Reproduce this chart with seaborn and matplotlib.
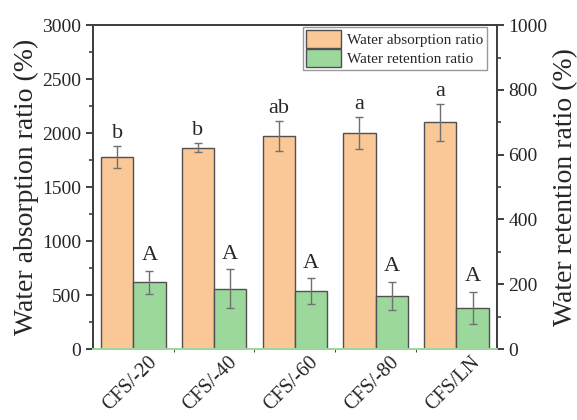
#%% packages
import numpy as np
import pandas as pd
import seaborn as sns
import matplotlib
matplotlib.use("Agg")
import matplotlib.pyplot as plt
import matplotlib.transforms as mtransforms
from matplotlib.patches import Patch
from matplotlib.ticker import MultipleLocator, FixedLocator

#%% data
samples = ["CFS/-20", "CFS/-40", "CFS/-60", "CFS/-80", "CFS/LN"]
absorption = [1780, 1865, 1972, 2003, 2099]
absorption_err = [105, 42, 140, 148, 172]
absorption_sig = ["b", "b", "ab", "a", "a"]
retention = [206, 186, 179, 165, 126]
retention_err = [35, 60, 40, 43, 50]
retention_sig = ["A", "A", "A", "A", "A"]

lab_abs = "Water absorption ratio"
lab_ret = "Water retention ratio"
orange = "#F9C896"
green = "#9CD79C"
edge = "#505050"

df = pd.DataFrame({
    "sample": samples * 2,
    "type": [lab_abs] * 5 + [lab_ret] * 5,
    "value": absorption + retention,
})

#%% style
sns.set_style("ticks")
plt.rcParams["font.family"] = ["Liberation Serif", "DejaVu Serif"]
plt.rcParams["axes.linewidth"] = 1.4
plt.rcParams["axes.edgecolor"] = "#404040"

fig = plt.figure(figsize=(5.77, 4.2), dpi=100)
ax = fig.add_axes([0.161, 0.169, 0.700, 0.771])
ax2 = ax.twinx()

pal = {lab_abs: orange, lab_ret: green}
hue_order = [lab_abs, lab_ret]

sns.barplot(data=df[df["type"] == lab_abs], x="sample", y="value", hue="type",
            hue_order=hue_order, palette=pal, errorbar=None, width=0.8, dodge=True,
            saturation=1, edgecolor=edge, linewidth=1.0, legend=False, ax=ax)
sns.barplot(data=df[df["type"] == lab_ret], x="sample", y="value", hue="type",
            hue_order=hue_order, palette=pal, errorbar=None, width=0.8, dodge=True,
            saturation=1, edgecolor=edge, linewidth=1.0, legend=False, ax=ax2)

#%% error bars and letters
def add_err(a, vals, errs, sig, offset):
    xs = sorted(p.get_x() + p.get_width() / 2 for p in a.patches if p.get_height() > 0)
    a.errorbar(xs, vals, yerr=errs, fmt="none", ecolor="#707070", elinewidth=1.0,
               capsize=3, capthick=1.0)
    for x, v, e, s in zip(xs, vals, errs, sig):
        a.annotate(s, (x, v + e), xytext=(0, offset), textcoords="offset points",
                   ha="center", va="bottom", fontsize=16)

add_err(ax, absorption, absorption_err, absorption_sig, 2)
add_err(ax2, retention, retention_err, retention_sig, 4)

#%% axes
ax.set_xlim(-0.5, 4.5)
ax2.set_xlim(-0.5, 4.5)
ax.set_ylim(0, 3000)
ax2.set_ylim(0, 1000)
ax.yaxis.set_major_locator(MultipleLocator(500))
ax.yaxis.set_minor_locator(MultipleLocator(250))
ax2.yaxis.set_major_locator(MultipleLocator(200))
ax2.yaxis.set_minor_locator(MultipleLocator(100))
ax.set_xlabel("")
ax.set_ylabel("Water absorption ratio (%)", fontsize=20, labelpad=2)
ax2.set_ylabel("Water retention ratio (%)", fontsize=20, labelpad=4)
ax.tick_params(axis="y", which="major", length=5, width=1.4, labelsize=14, color="#404040")
ax.tick_params(axis="y", which="minor", length=3, width=1.2, color="#404040")
ax2.tick_params(axis="y", which="major", length=5, width=1.4, labelsize=14, color="#404040")
ax2.tick_params(axis="y", which="minor", length=3, width=1.2, color="#404040")
ax.tick_params(axis="x", length=0, labelsize=14.5, pad=3)
shift = mtransforms.ScaledTranslation(10 / 72, 0, fig.dpi_scale_trans)
for t in ax.get_xticklabels():
    t.set_rotation(45)
    t.set_ha("right")
    t.set_rotation_mode("anchor")
    t.set_transform(t.get_transform() + shift)
ax.spines["bottom"].set_color(green)
ax2.spines["bottom"].set_color(green)
ax2.xaxis.set_minor_locator(FixedLocator([0.5, 1.5, 2.5, 3.5]))
ax2.tick_params(axis="x", which="minor", direction="in", length=3, color=green)

handles = [Patch(facecolor=orange, edgecolor=edge, label=lab_abs),
           Patch(facecolor=green, edgecolor=edge, label=lab_ret)]
leg = ax2.legend(handles=handles, loc="upper right", bbox_to_anchor=(0.975, 0.995),
                 fontsize=11, frameon=True, fancybox=False, edgecolor="#999999",
                 framealpha=1, borderpad=0.2, handlelength=2.3, handleheight=1.4,
                 handletextpad=0.4, labelspacing=0.1, borderaxespad=0)
leg.get_frame().set_linewidth(1.0)

fig.savefig("out.png", dpi=100)
